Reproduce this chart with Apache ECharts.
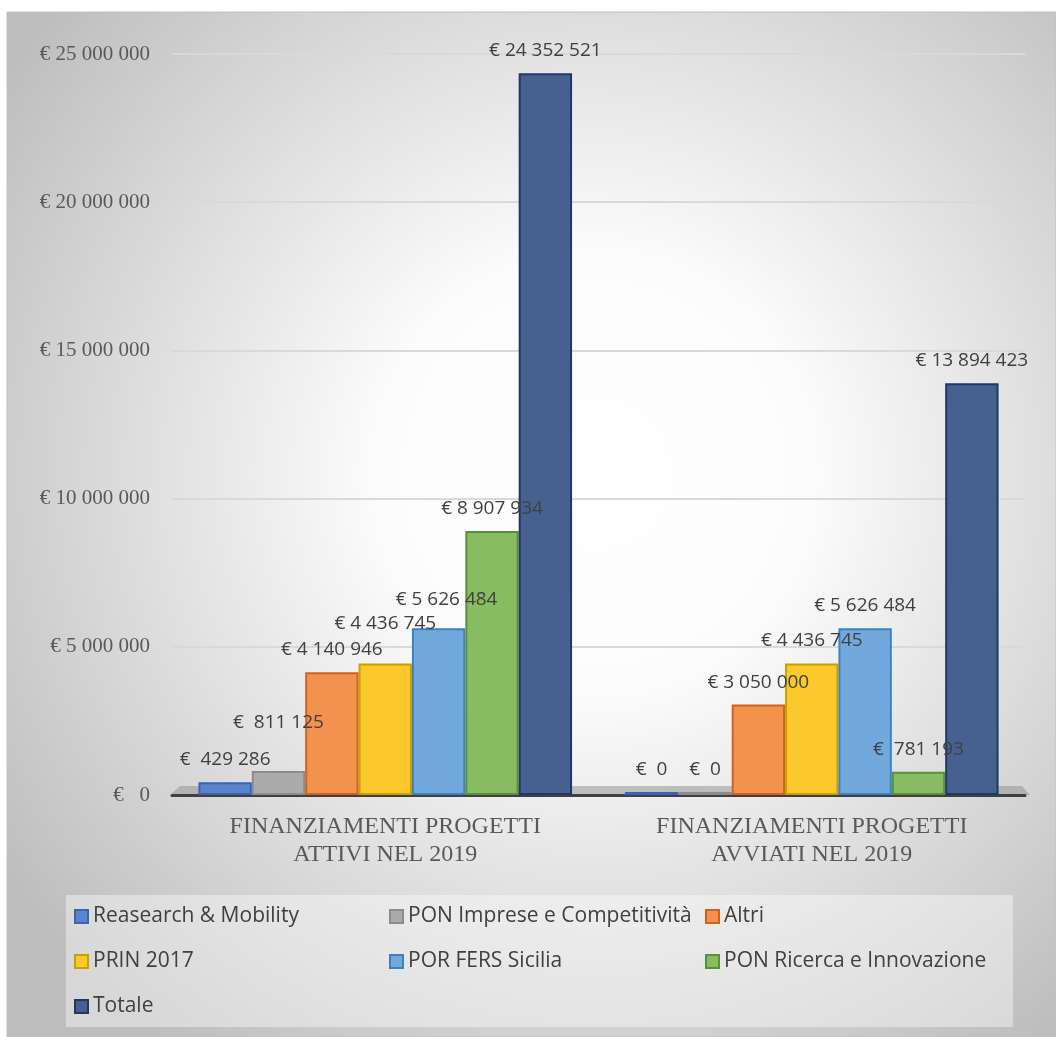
<!DOCTYPE html>
<html>
<head>
<meta charset="utf-8">
<script src="https://cdn.jsdelivr.net/npm/echarts@6/dist/echarts.min.js"></script>
<style>html,body{margin:0;padding:0;background:#fff}#c{width:1056px;height:1037px}</style>
</head>
<body>
<div id="c"></div>
<script>
const categories = ['FINANZIAMENTI PROGETTI\nATTIVI NEL 2019', 'FINANZIAMENTI PROGETTI\nAVVIATI NEL 2019'];
const seriesNames = ['Reasearch & Mobility', 'PON Imprese e Competitività', 'Altri', 'PRIN 2017', 'POR FERS Sicilia', 'PON Ricerca e Innovazione', 'Totale'];
const researchMobility = [429286, 0];
const ponImprese = [811125, 0];
const altri = [4140946, 3050000];
const prin2017 = [4436745, 4436745];
const porFers = [5626484, 5626484];
const ponRicerca = [8907934, 781193];
const totale = [24352521, 13894423];
const yTicks = [0, 5000000, 10000000, 15000000, 20000000, 25000000];

const seriesValues = [researchMobility, ponImprese, altri, prin2017, porFers, ponRicerca, totale];
const fills = ['#5B84CE', '#ABABAB', '#F3914F', '#FBC92B', '#72A9DD', '#87BC61', '#46618F'];
const borders = ['#3A64B0', '#8C8C8C', '#D0621E', '#C9A000', '#3A82C4', '#5B8F3A', '#1F3864'];
// label nudges (series index, category index) -> extra lift in px
const labelNudge = {'1,0': [0, 26], '3,0': [0, 17], '4,0': [8, 6]};

function group(v) { return String(v).replace(/\B(?=(\d{3})+(?!\d))/g, ' '); }
function euro(v) { return (v < 1000000 ? '€  ' : '€ ') + group(v); }

const chart = echarts.init(document.getElementById('c'));
const series = seriesValues.map((vals, i) => ({
  name: seriesNames[i],
  type: 'bar',
  barGap: '0%',
  barCategoryGap: '12.4%',
  barMinHeight: 3,
  itemStyle: { color: fills[i], borderColor: borders[i], borderWidth: 2 },
  label: {
    show: true, position: 'top', distance: 13,
    fontFamily: 'Open Sans', fontSize: 19, color: '#404040',
    formatter: p => euro(p.value)
  },
  data: vals.map((v, j) => {
    const n = labelNudge[i + ',' + j];
    return n ? { value: v, label: { offset: [n[0], -n[1]] } } : v;
  })
}));

const legendCols = [
  { left: 74, names: [seriesNames[0], seriesNames[3], seriesNames[6]] },
  { left: 389, names: [seriesNames[1], seriesNames[4]] },
  { left: 705, names: [seriesNames[2], seriesNames[5]] }
];

chart.setOption({
  animation: false,
  graphic: [
    { type: 'rect', z: -10, shape: { x: 7, y: 12, width: 1049, height: 1025 },
      style: { fill: { type: 'radial', x: 0.56, y: 0.45, r: 0.7,
        colorStops: [{ offset: 0, color: '#ffffff' }, { offset: 0.3, color: '#fcfcfc' }, { offset: 1, color: '#bdbdbd' }] },
        stroke: '#c0c0c0', lineWidth: 1 } },
    { type: 'rect', z: -9, shape: { x: 66, y: 895, width: 947, height: 132 },
      style: { fill: 'rgba(255,255,255,0.4)' } },
    { type: 'polygon', z: -8, shape: { points: [[180, 786], [1022, 786], [1030, 795], [170, 795]] },
      style: { fill: 'rgba(150,150,150,0.55)' } }
  ],
  grid: { left: 172, right: 31, top: 54, bottom: 242, containLabel: false },
  legend: legendCols.map(c => ({
    orient: 'vertical', left: c.left, top: 906, padding: 0,
    itemWidth: 13, itemHeight: 13, itemGap: 24, icon: 'rect',
    textStyle: { fontFamily: 'Open Sans', fontSize: 21, color: '#404040', lineHeight: 21 },
    data: c.names
  })),
  xAxis: {
    type: 'category', data: categories,
    axisLine: { lineStyle: { color: '#404040', width: 3 } },
    axisTick: { show: false },
    axisLabel: { margin: 18, fontFamily: 'Liberation Serif', fontSize: 24, color: '#595959', lineHeight: 28 }
  },
  yAxis: {
    type: 'value', min: 0, max: 25000000, interval: 5000000,
    axisLine: { show: false }, axisTick: { show: false },
    splitLine: { lineStyle: { color: '#d9d9d9', width: 2 } },
    axisLabel: { margin: 22, fontFamily: 'Liberation Serif', fontSize: 21, color: '#595959',
      formatter: v => yTicks.includes(v) ? (v === 0 ? '€   0' : '€ ' + group(v)) : '' }
  },
  series: series
});
</script>
</body>
</html>
